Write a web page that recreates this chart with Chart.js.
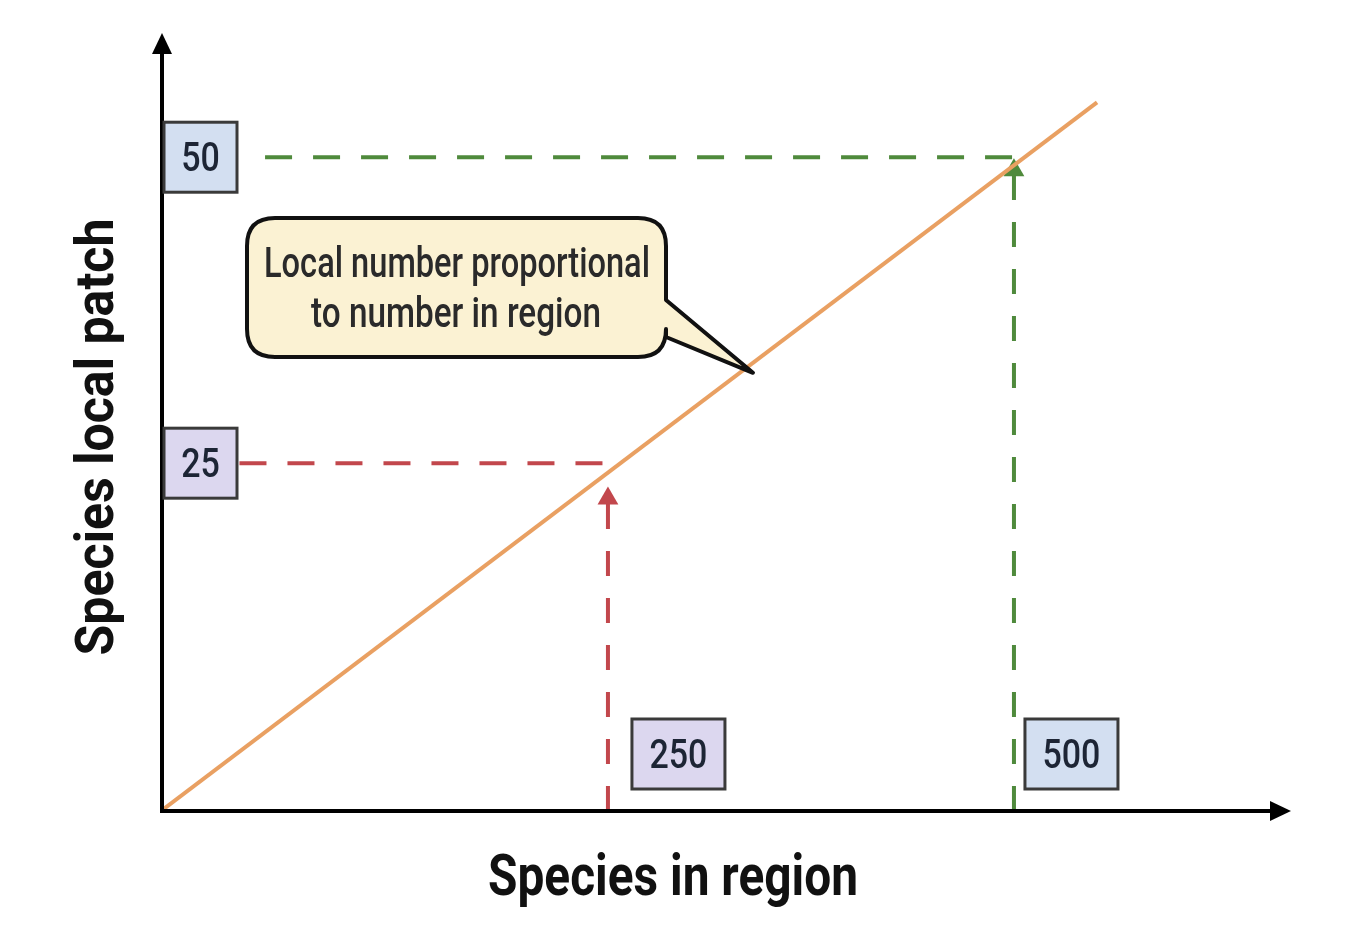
<!DOCTYPE html>
<html>
<head>
<meta charset="utf-8">
<script src="https://cdn.jsdelivr.net/npm/chart.js@4.4.1/dist/chart.umd.min.js"></script>
<style>
  html, body { margin: 0; padding: 0; background: #fff; }
  #wrap { width: 1368px; height: 946px; position: relative; }
</style>
</head>
<body>
<div id="wrap"><canvas id="chart"></canvas></div>
<script>
// ── data ──
const lineX = [0, 548.7];          // species in region
const lineY = [0, 54.2];           // species in local patch
const xMarks = [262, 500];         // where the dashed drop lines hit the x axis
const yMarks = [26.6, 50];         // where the dashed lines hit the y axis
const xMarkLabels = ['250', '500'];
const yMarkLabels = ['25', '50'];
const xArrowTop = [23.9, 49.0];    // arrowhead centres on the vertical dashed lines
const hLineStart = [46, 61];       // horizontal dashed lines start just right of the boxes
const calloutAt = 347;             // x value where the bubble's tail meets the line

const colors = {
  line:  '#e9a062',
  red:   '#c2474c',
  green: '#4f8a3c',
  axis:  '#000000',
  blueBox: '#d3dff1',
  lilacBox: '#dcd7ef',
  callout: '#fbf2d3',
  text: '#1d2535',
};
const markColors = [colors.red, colors.green];
const boxFills = [colors.lilacBox, colors.blueBox];
const xBoxOffset = [24, 11];

const datasets = [{
  data: lineX.map((x, i) => ({ x, y: lineY[i] })),
  borderColor: colors.line,
  borderWidth: 4,
  pointRadius: 0,
}];
xMarks.forEach((xv, i) => {
  // horizontal dashed line
  datasets.push({
    data: [{ x: hLineStart[i], y: yMarks[i] }, { x: xv, y: yMarks[i] }],
    borderColor: markColors[i],
    borderWidth: 4,
    borderDash: [27, 21],
    pointRadius: 0,
  });
  // vertical dashed line with arrowhead
  datasets.push({
    data: [{ x: xv, y: 0 }, { x: xv, y: xArrowTop[i] }],
    borderColor: markColors[i],
    borderWidth: 4,
    borderDash: [25, 22],
    pointStyle: 'triangle',
    pointRadius: [0, 12],
    pointBackgroundColor: markColors[i],
    pointBorderWidth: 0,
  });
});

function fitText(ctx, text, x, y, font, width, color) {
  ctx.save();
  ctx.font = font;
  const s = width / ctx.measureText(text).width;
  ctx.translate(x, y);
  ctx.scale(s, 1);
  ctx.fillStyle = color;
  ctx.textAlign = 'center';
  ctx.textBaseline = 'alphabetic';
  ctx.fillText(text, 0, 0);
  ctx.restore();
}

function labelBox(ctx, x, y, w, h, fill, text) {
  ctx.save();
  ctx.fillStyle = fill;
  ctx.fillRect(x, y, w, h);
  ctx.strokeStyle = '#3a3a3a';
  ctx.lineWidth = 3;
  ctx.strokeRect(x, y, w, h);
  ctx.font = '500 40px Roboto';
  const tw = ctx.measureText(text).width * 0.85;
  ctx.restore();
  fitText(ctx, text, x + w / 2, y + h / 2 + 14, '500 40px Roboto', tw, colors.text);
}

const sketchPlugin = {
  id: 'sketch',
  afterDatasetsDraw(chart) {
    const { ctx, chartArea: a, scales: { x, y } } = chart;
    ctx.save();
    // axes with arrowheads
    ctx.strokeStyle = colors.axis;
    ctx.fillStyle = colors.axis;
    ctx.lineWidth = 4;
    ctx.beginPath();
    ctx.moveTo(a.left + 1, a.bottom);
    ctx.lineTo(a.left + 1, a.top + 18);
    ctx.moveTo(a.left - 1, a.bottom);
    ctx.lineTo(a.right - 18, a.bottom);
    ctx.stroke();
    ctx.beginPath();
    ctx.moveTo(a.left + 1, a.top);
    ctx.lineTo(a.left + 11, a.top + 21);
    ctx.lineTo(a.left - 9, a.top + 21);
    ctx.closePath();
    ctx.fill();
    ctx.beginPath();
    ctx.moveTo(a.right, a.bottom);
    ctx.lineTo(a.right - 21, a.bottom - 10);
    ctx.lineTo(a.right - 21, a.bottom + 10);
    ctx.closePath();
    ctx.fill();
    ctx.restore();

    // value boxes
    yMarks.forEach((v, i) => {
      const py = y.getPixelForValue(v);
      labelBox(ctx, a.left + 3, py - 35, 73, 70, boxFills[i], yMarkLabels[i]);
    });
    xMarks.forEach((v, i) => {
      const px = x.getPixelForValue(v);
      labelBox(ctx, px + xBoxOffset[i], 719, 93, 70, boxFills[i], xMarkLabels[i]);
    });

    // callout bubble pointing at the line
    const tipX = x.getPixelForValue(calloutAt);
    const tipY = y.getPixelForValue(calloutAt * lineY[1] / lineX[1]) + 10;
    const L = 247, T = 218, R = 666, B = 357, r = 28;
    ctx.save();
    ctx.beginPath();
    ctx.moveTo(L + r, T);
    ctx.lineTo(R - r, T);
    ctx.quadraticCurveTo(R, T, R, T + r);
    ctx.lineTo(R, 300);
    ctx.lineTo(tipX, tipY);
    ctx.lineTo(R, 337);
    ctx.lineTo(R, B - r);
    ctx.quadraticCurveTo(R, B, R - r, B);
    ctx.lineTo(L + r, B);
    ctx.quadraticCurveTo(L, B, L, B - r);
    ctx.lineTo(L, T + r);
    ctx.quadraticCurveTo(L, T, L + r, T);
    ctx.closePath();
    ctx.fillStyle = colors.callout;
    ctx.fill();
    ctx.lineWidth = 4;
    ctx.lineJoin = 'round';
    ctx.strokeStyle = '#111';
    ctx.stroke();
    ctx.restore();
    fitText(ctx, 'Local number proportional', 457, 277, '500 42px Roboto', 386, '#2a2a2a');
    fitText(ctx, 'to number in region', 456, 327, '500 42px Roboto', 290, '#2a2a2a');

    // axis titles
    fitText(ctx, 'Species in region', 673, 895, 'bold 58px Roboto', 370, '#111');
    ctx.save();
    ctx.translate(113, 437);
    ctx.rotate(-Math.PI / 2);
    fitText(ctx, 'Species local patch', 0, 0, 'bold 53px Roboto', 437, '#111');
    ctx.restore();
  }
};

new Chart(document.getElementById('chart'), {
  type: 'line',
  data: { datasets },
  options: {
    responsive: true,
    maintainAspectRatio: false,
    animation: false,
    events: [],
    layout: { padding: { left: 161, right: 77, top: 33, bottom: 135 } },
    plugins: { legend: { display: false }, tooltip: { enabled: false } },
    elements: { line: { tension: 0 } },
    scales: {
      x: { type: 'linear', min: 0, max: 662.4, display: false },
      y: { type: 'linear', min: 0, max: 59.5, display: false },
    },
  },
  plugins: [sketchPlugin],
});
</script>
</body>
</html>
